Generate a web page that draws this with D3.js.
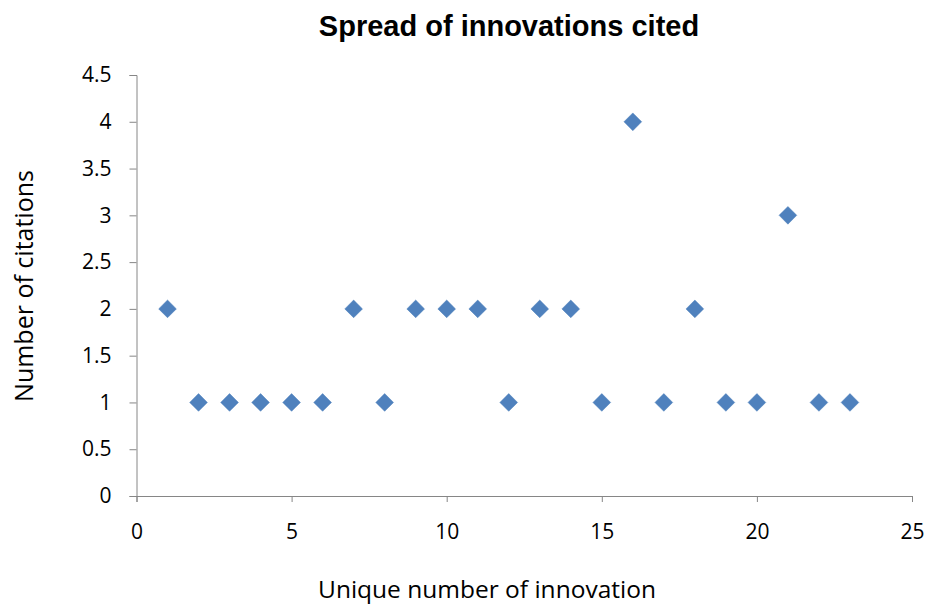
<!DOCTYPE html>
<html>
<head>
<meta charset="utf-8">
<script src="https://cdn.jsdelivr.net/npm/d3@7"></script>
<style>
  body { margin: 0; background: #fff; }
  .axis path, .axis line { stroke: #868686; }
  .axis text { font-family: "Open Sans", sans-serif; font-size: 21px; fill: #000; }
</style>
</head>
<body>
<div id="chart"></div>
<script>
const innovationIds = [1, 2, 3, 4, 5, 6, 7, 8, 9, 10, 11, 12, 13, 14, 15, 16, 17, 18, 19, 20, 21, 22, 23];
const citationCounts = [2, 1, 1, 1, 1, 1, 2, 1, 2, 2, 2, 1, 2, 2, 1, 4, 1, 2, 1, 1, 3, 1, 1];
const xTicks = [0, 5, 10, 15, 20, 25];
const yTicks = [0, 0.5, 1, 1.5, 2, 2.5, 3, 3.5, 4, 4.5];

const data = innovationIds.map(function(id, i) { return { id: id, count: citationCounts[i] }; });

const totalWidth = 925, totalHeight = 604;
const margin = { top: 75, right: 13, bottom: 108, left: 136.5 };
const width = totalWidth - margin.left - margin.right;
const height = totalHeight - margin.top - margin.bottom;

const svg = d3.select('#chart').append('svg')
  .attr('width', totalWidth)
  .attr('height', totalHeight);

const g = svg.append('g').attr('transform', 'translate(' + margin.left + ',' + margin.top + ')');

const x = d3.scaleLinear().domain([0, 25]).range([0, width]);
const y = d3.scaleLinear().domain([0, 4.5]).range([height, 0]);

g.append('g')
  .attr('class', 'axis')
  .attr('transform', 'translate(0,' + height + ')')
  .call(d3.axisBottom(x).tickValues(xTicks).tickSize(6).tickSizeOuter(6))
  .call(function(a) { a.selectAll('text').attr('y', 43).attr('dy', 0); });

g.append('g')
  .attr('class', 'axis')
  .call(d3.axisLeft(y).tickValues(yTicks).tickSize(7).tickSizeOuter(7).tickPadding(18)
    .tickFormat(function(d) { return d; }));

const diamond = d3.symbol().type(d3.symbolDiamond2).size(200);

g.append('g')
  .selectAll('path')
  .data(data)
  .enter().append('path')
  .attr('d', diamond)
  .attr('transform', function(d) { return 'translate(' + x(d.id) + ',' + y(d.count) + ')'; })
  .attr('fill', '#4F81BD')
  .attr('stroke', '#4A7EBB')
  .attr('stroke-width', 0.5);

svg.append('text')
  .attr('x', 509)
  .attr('y', 36)
  .attr('text-anchor', 'middle')
  .attr('font-family', 'Liberation Sans, Arial, sans-serif')
  .attr('font-weight', 'bold')
  .attr('font-size', '29px')
  .text('Spread of innovations cited');

svg.append('text')
  .attr('x', 487)
  .attr('y', 598)
  .attr('text-anchor', 'middle')
  .attr('font-family', 'Open Sans, sans-serif')
  .attr('font-size', '24.5px')
  .text('Unique number of innovation');

svg.append('text')
  .attr('transform', 'translate(33,286) rotate(-90)')
  .attr('text-anchor', 'middle')
  .attr('font-family', 'Open Sans, sans-serif')
  .attr('font-size', '25px')
  .text('Number of citations');
</script>
</body>
</html>
